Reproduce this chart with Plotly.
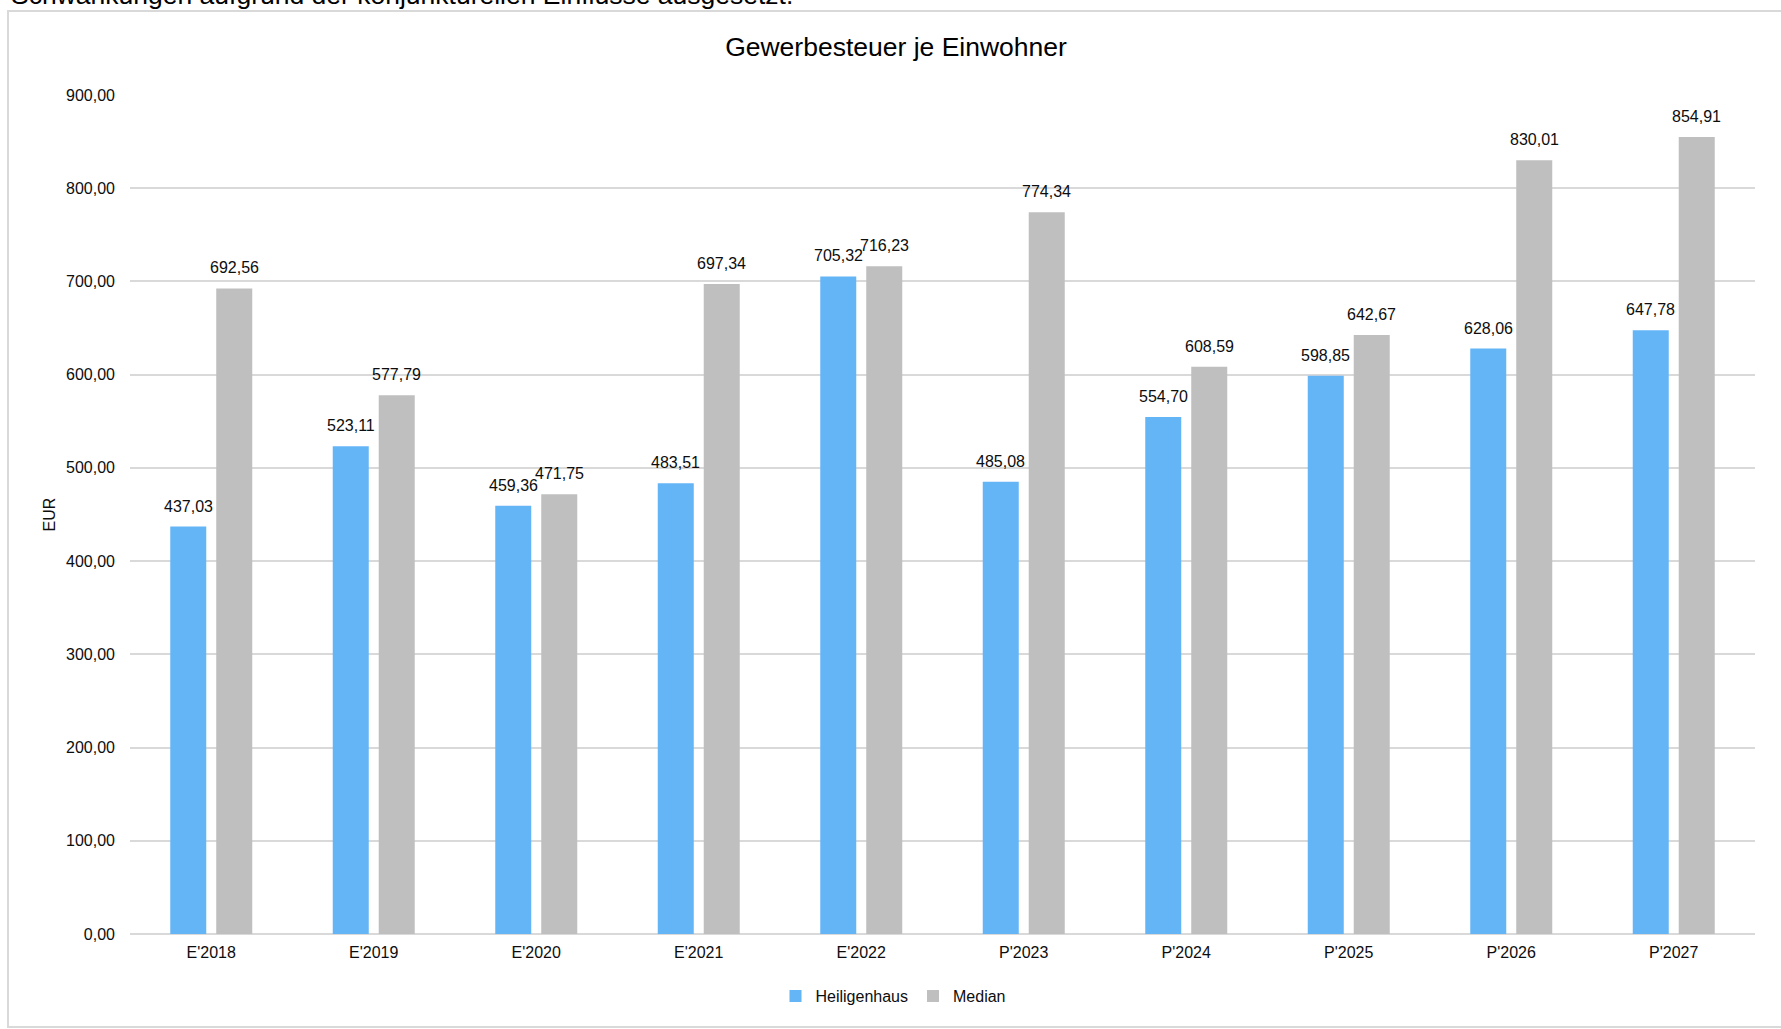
import plotly.graph_objects as go

categories = ["E'2018", "E'2019", "E'2020", "E'2021", "E'2022",
              "P'2023", "P'2024", "P'2025", "P'2026", "P'2027"]
heiligenhaus = [437.03, 523.11, 459.36, 483.51, 705.32,
                485.08, 554.70, 598.85, 628.06, 647.78]
median = [692.56, 577.79, 471.75, 697.34, 716.23,
          774.34, 608.59, 642.67, 830.01, 854.91]
y_ticks = [0, 100, 200, 300, 400, 500, 600, 700, 800, 900]

title_text = "Gewerbesteuer je Einwohner"
top_text = "Schwankungen aufgrund der konjunkturellen Einflüsse ausgesetzt."

FONT = "Liberation Sans, Arial, Helvetica, sans-serif"
BLUE = "#64B5F6"
GRAY = "#BFBFBF"
GRID = "#D9D9D9"
TXT = "#0d0d0d"

W, H = 1781, 1029
L, R, T, B = 130, 26, 95, 95
PW, PH = W - L - R, H - T - B

def px_to_paper_x(px):
    return (px - L) / PW

def px_to_paper_y(py):
    return (H - B - py) / PH

fig = go.Figure()
fig.add_trace(go.Bar(name="Heiligenhaus", x=categories, y=heiligenhaus,
                     marker=dict(color=BLUE, line=dict(width=0)),
                     constraintext="none", hoverinfo="x+y"))
fig.add_trace(go.Bar(name="Median", x=categories, y=median,
                     marker=dict(color=GRAY, line=dict(width=0)),
                     constraintext="none", hoverinfo="x+y"))

# data labels
def fmt(v):
    return f"{v:.2f}".replace(".", ",")

for series, shift in ((heiligenhaus, -23), (median, 23)):
    for c, v in zip(categories, series):
        fig.add_annotation(x=c, y=v, xref="x", yref="y", text=fmt(v),
                           showarrow=False, xshift=shift, yshift=10,
                           yanchor="bottom", xanchor="center",
                           font=dict(family=FONT, size=16, color=TXT))

# partially visible text at the very top of the page
fig.add_annotation(xref="paper", yref="paper", x=px_to_paper_x(9), y=1,
                   xanchor="left", yanchor="bottom", yshift=83,
                   text=top_text, showarrow=False,
                   font=dict(family=FONT, size=26.5, color="#000000"))

# chart frame
fig.add_shape(type="rect", xref="paper", yref="paper",
              x0=px_to_paper_x(8), x1=px_to_paper_x(1795),
              y0=px_to_paper_y(1027), y1=px_to_paper_y(11),
              line=dict(color=GRID, width=2), fillcolor="rgba(0,0,0,0)",
              layer="below")

fig.update_layout(
    width=W, height=H,
    margin=dict(l=L, r=R, t=T, b=B, autoexpand=False),
    paper_bgcolor="white", plot_bgcolor="white",
    separators=",.",
    barmode="group", bargap=0.434, bargroupgap=0.217,
    font=dict(family=FONT, size=16, color=TXT),
    title=dict(text=title_text, x=896 / W, xanchor="center",
               y=1 - 47 / H, yanchor="middle",
               font=dict(family=FONT, size=26.5, color="#000000")),
    legend=dict(orientation="h", x=px_to_paper_x(893), xanchor="center",
                y=px_to_paper_y(996), yanchor="middle",
                font=dict(family=FONT, size=16, color=TXT),
                itemwidth=30, tracegroupgap=0, bgcolor="rgba(0,0,0,0)"),
    showlegend=True,
)
fig.update_yaxes(range=[0, 900], tickvals=y_ticks, tickformat=".2f",
                 showgrid=True, gridcolor=GRID, gridwidth=1.5,
                 zeroline=True, zerolinecolor=GRID, zerolinewidth=2,
                 showline=False, ticks="", ticklabelstandoff=14,
                 title=dict(text="EUR", standoff=6,
                            font=dict(family=FONT, size=16, color=TXT)),
                 tickfont=dict(family=FONT, size=16, color=TXT))
fig.update_xaxes(type="category", showgrid=False, showline=False,
                 ticks="", ticklabelstandoff=7,
                 tickfont=dict(family=FONT, size=16, color=TXT))

fig.write_html("out.html")
